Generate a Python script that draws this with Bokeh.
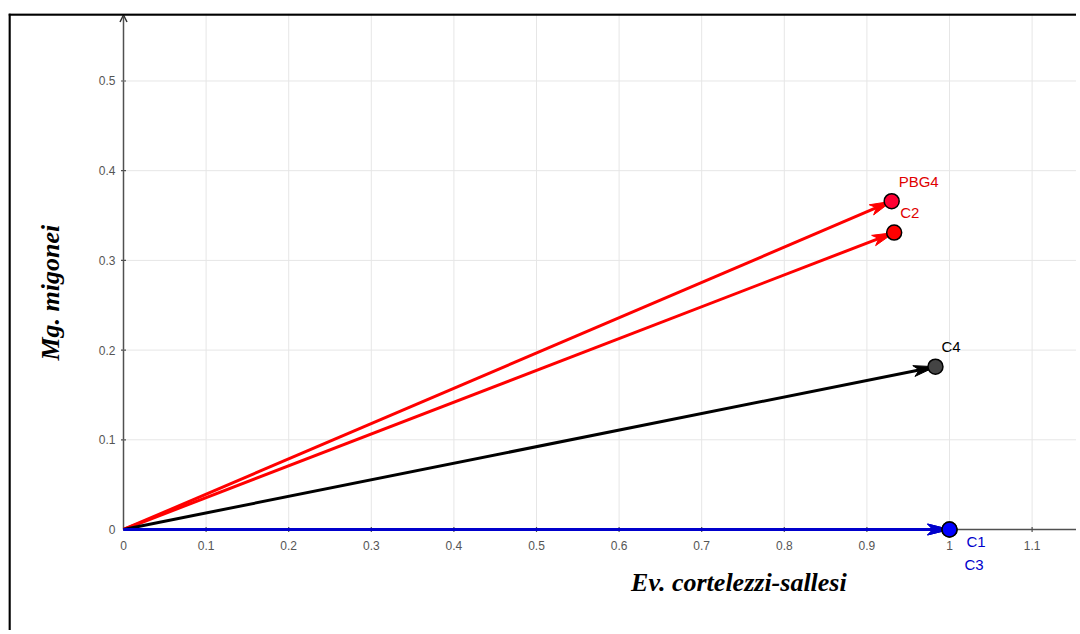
import math
from bokeh.plotting import figure
from bokeh.models import Arrow, OpenHead, Span, Label
from bokeh.core.properties import value
from bokeh.embed import file_html
from bokeh.resources import INLINE

# ---- data ----
labels = ["PBG4", "C2", "C4", "C1", "C3"]
x_vals = [0.930, 0.933, 0.983, 1.0, 1.0]
y_vals = [0.366, 0.331, 0.1815, 0.0, 0.0]

x_ticks = [0, 0.1, 0.2, 0.3, 0.4, 0.5, 0.6, 0.7, 0.8, 0.9, 1.0, 1.1]
x_tick_labels = ["0", "0.1", "0.2", "0.3", "0.4", "0.5", "0.6", "0.7", "0.8", "0.9", "1", "1.1"]
y_ticks = [0, 0.1, 0.2, 0.3, 0.4, 0.5]
y_tick_labels = ["0", "0.1", "0.2", "0.3", "0.4", "0.5"]

x_title = "Ev. cortelezzi-sallesi"
y_title = "Mg. migonei"

# ---- styles ----
arrow_colors = ["#ff0000", "#ff0000", "#000000", "#0000cc", "#0000cc"]
point_fills = ["#ff0033", "#ff0000", "#444444", "#0000ff", "#0000ff"]
label_colors = ["#e00000", "#e00000", "#000000", "#0000cc", "#0000cc"]
label_dx = [7, 6, 6, 17, 15]
label_dy = [-20, -20, -20, 12, 35]

# ---- layout ----
FIG_W, FIG_H = 1076, 630
BL, BT = 8, 13
FRAME_W, FRAME_H = FIG_W - BL, FIG_H - BT
X0, X1 = -0.13923, 1.15375
Y0, Y1 = -0.11260, 0.57525
SX = FRAME_W / (X1 - X0)   # px per data unit
SY = FRAME_H / (Y1 - Y0)

p = figure(width=FIG_W, height=FIG_H, x_range=(X0, X1), y_range=(Y0, Y1),
           x_axis_location=None, y_axis_location=None,
           output_backend="svg", toolbar_location=None,
           min_border_left=BL, min_border_right=0, min_border_top=BT, min_border_bottom=0)
p.outline_line_color = None
p.background_fill_color = "white"
p.border_fill_color = "white"
for g in p.grid:
    g.visible = False

# grid (first quadrant only)
gx = x_ticks[1:]
gy = y_ticks[1:]
p.segment(x0=gx, y0=[0] * len(gx), x1=gx, y1=[Y1] * len(gx),
          line_color="#e6e6e6", line_width=1)
p.segment(x0=[0] * len(gy), y0=gy, x1=[X1] * len(gy), y1=gy,
          line_color="#e6e6e6", line_width=1)

# axes lines
p.segment(x0=[0], y0=[0], x1=[X1], y1=[0], line_color="#505050", line_width=1.5)
p.add_layout(Arrow(end=OpenHead(size=7, line_color="#303030", line_width=1.5),
                   x_start=0, y_start=0, x_end=0, y_end=Y1 - 1.5 / SY,
                   line_color="#505050", line_width=1.5, level="underlay"))

# ticks
p.scatter(x=gx, y=[0] * len(gx), marker="dash", angle=math.pi / 2, size=5,
          line_color="#505050", line_width=1.2)
p.scatter(x=[0] * len(gy), y=gy, marker="dash", size=5,
          line_color="#505050", line_width=1.2)

# tick labels
p.text(x=x_ticks, y=[0] * len(x_ticks), text=x_tick_labels, x_offset=0, y_offset=16,
       text_align="center", text_baseline="middle",
       text_font=value("Liberation Sans"), text_font_size="12px", text_color="#555555")
p.text(x=[0] * len(y_ticks), y=y_ticks, text=y_tick_labels, x_offset=-8, y_offset=0,
       text_align="right", text_baseline="middle",
       text_font=value("Liberation Sans"), text_font_size="12px", text_color="#555555")

# vectors: shafts
p.segment(x0=[0] * len(x_vals), y0=[0] * len(y_vals), x1=x_vals, y1=y_vals,
          line_color=arrow_colors, line_width=3)

# vectors: arrowheads (tip at the point, built in screen pixels and mapped back)
HEAD_L, HEAD_W = 22.0, 5.5
head_xs, head_ys = [], []
for xv, yv in zip(x_vals, y_vals):
    px, py = xv * SX, yv * SY
    n = math.hypot(px, py)
    ux, uy = px / n, py / n
    bx, by = px - HEAD_L * ux, py - HEAD_L * uy
    nx, ny = -uy, ux
    pts = [(px, py), (bx + HEAD_W * nx, by + HEAD_W * ny),
           (bx + 0.25 * HEAD_L * ux, by + 0.25 * HEAD_L * uy),
           (bx - HEAD_W * nx, by - HEAD_W * ny)]
    head_xs.append([a / SX for a, _ in pts])
    head_ys.append([b / SY for _, b in pts])
p.patches(xs=head_xs, ys=head_ys, fill_color=arrow_colors, line_color=arrow_colors, line_width=1)

# points
p.scatter(x=x_vals, y=y_vals, size=15, fill_color=point_fills,
          line_color="black", line_width=1.5)

# point labels
p.text(x=x_vals, y=y_vals, text=labels, x_offset=label_dx, y_offset=label_dy,
       text_align="left", text_baseline="middle",
       text_font=value("Liberation Sans"), text_font_size="15px", text_color=label_colors)

# axis titles
p.add_layout(Label(x=0.745, y=-0.059, text=x_title, text_align="center", text_baseline="middle",
                   text_font="Liberation Serif", text_font_style="bold italic",
                   text_font_size="26px", text_color="black"))
p.add_layout(Label(x=-0.0884, y=0.264, text=y_title, angle=math.pi / 2,
                   text_align="center", text_baseline="middle",
                   text_font="Liberation Serif", text_font_style="bold italic",
                   text_font_size="26px", text_color="black"))

# frame border (left & top only visible in reference)
p.add_layout(Span(location=X0 + 1.0 / SX, dimension="height", line_color="black", line_width=2.5))
p.add_layout(Span(location=Y1 - 1.0 / SY, dimension="width", line_color="black", line_width=2.5))

open("out.html", "w").write(file_html(p, INLINE))
